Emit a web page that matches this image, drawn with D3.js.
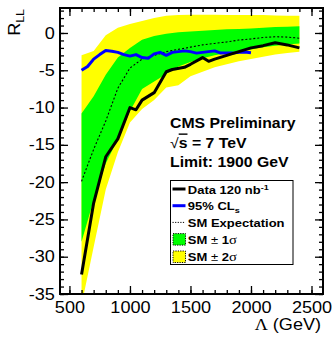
<!DOCTYPE html>
<html lang="en">
<head>
<meta charset="UTF-8">
<title>R_LL limit</title>
<style>
  * { margin: 0; padding: 0; }
  body { background: #fff; }
  svg { display: block; font-family: "Liberation Sans", Arial, sans-serif; }
</style>
</head>
<body>
<script src="https://cdn.jsdelivr.net/npm/d3@7"></script>
<script>
  // Lambda grid (GeV) for the SM expectation and bands
  var lambda = [600, 700, 800, 900, 1000, 1100, 1200, 1300, 1400, 1500, 1600, 1700, 1800, 1900, 2000, 2100, 2200, 2300, 2400];
  var smExpected = [-19.9, -15.6, -11.8, -7.4, -4.7, -3.5, -3.0, -2.5, -2.2, -1.9, -1.6, -1.4, -1.2, -0.95, -0.8, -0.6, -0.5, -0.55, -0.7];
  var sm1Up = [-10.8, -8.5, -5.6, -3.3, -2.0, -0.9, -0.4, -0.1, 0.1, 0.2, 0.3, 0.4, 0.5, 0.55, 0.6, 0.7, 0.8, 0.85, 0.9];
  var sm1Down = [-28, -22.4, -17.5, -14.2, -10.5, -7.5, -6.5, -5.5, -4.5, -3.9, -3.4, -3.0, -2.7, -2.4, -2.2, -1.9, -1.7, -1.55, -1.4];
  var sm2Up = [-3.0, -2.4, -0.3, 0.7, 1.2, 1.6, 2.0, 2.3, 2.4, 2.45, 2.45, 2.45, 2.4, 2.4, 2.4, 2.4, 2.35, 2.3, 2.3];
  var sm2Down = [-36.5, -28.7, -21.0, -16.0, -12.0, -10.2, -9.0, -7.3, -7.0, -5.8, -5.2, -4.6, -4.2, -3.8, -3.5, -3.2, -2.9, -2.7, -2.5];

  // data 120 nb^-1
  var dataLambda = [600, 700, 800, 900, 1000, 1050, 1100, 1200, 1300, 1350, 1450, 1500, 1600, 1650, 1700, 1800, 1900, 2000, 2100, 2200, 2300, 2400];
  var dataR = [-32.4, -22.8, -16.6, -14.2, -10.0, -10.3, -9.0, -8.0, -5.2, -4.9, -4.6, -4.2, -3.3, -3.8, -3.5, -3.0, -2.5, -2.0, -1.7, -1.3, -1.6, -2.0];

  // 95% CLs
  var clsLambda = [600, 650, 700, 750, 800, 850, 900, 950, 1000, 1050, 1100, 1150, 1200, 1250, 1300, 1350, 1400, 1450, 1500, 1550, 1600, 1650, 1700, 1750, 1800, 1850, 1900, 1950, 2000];
  var clsR = [-5.0, -4.5, -3.5, -2.9, -2.35, -2.45, -2.6, -2.9, -3.1, -2.9, -3.3, -3.4, -2.8, -2.6, -3.0, -2.6, -2.5, -2.4, -2.5, -2.7, -2.6, -2.5, -2.4, -2.7, -2.7, -2.7, -2.6, -2.55, -2.65];

  var yTicks = [-35, -30, -25, -20, -15, -10, -5, 0];
  var xTicks = [500, 1000, 1500, 2000, 2500];

  var width = 336, height = 342;
  var frame = {left: 60, right: 323, top: 8, bottom: 294};
  var SX = 1.13; // the original lettering is a bit wide
  var SERIF = '"Liberation Serif", "Times New Roman", serif';

  var svg = d3.select('body').append('svg').attr('width', width).attr('height', height);

  var xScale = d3.scaleLinear().domain([422, 2595]).range([frame.left, frame.right]);
  var yScale = d3.scaleLinear().domain([-35, 3.35]).range([frame.bottom, frame.top]);

  svg.append('clipPath').attr('id', 'plotclip')
    .append('rect')
    .attr('x', frame.left).attr('y', frame.top)
    .attr('width', frame.right - frame.left).attr('height', frame.bottom - frame.top);

  var plot = svg.append('g').attr('clip-path', 'url(#plotclip)');

  function band(lo, hi) {
    return d3.area()
      .x(function (d, i) { return xScale(lambda[i]); })
      .y0(function (d, i) { return yScale(lo[i]); })
      .y1(function (d, i) { return yScale(hi[i]); })(lambda);
  }

  plot.append('path').attr('d', band(sm2Down, sm2Up)).attr('fill', '#ffff00');
  plot.append('path').attr('d', band(sm1Down, sm1Up)).attr('fill', '#00ff00');

  function curve(xs, ys) {
    return d3.line()
      .x(function (d, i) { return xScale(xs[i]); })
      .y(function (d, i) { return yScale(ys[i]); })(xs);
  }

  plot.append('path').attr('d', curve(lambda, smExpected))
    .attr('fill', 'none').attr('stroke', '#000').attr('stroke-width', 1.1)
    .attr('stroke-dasharray', '2,2');
  plot.append('path').attr('d', curve(clsLambda, clsR))
    .attr('fill', 'none').attr('stroke', '#0000ff').attr('stroke-width', 3)
    .attr('stroke-linejoin', 'round');
  plot.append('path').attr('d', curve(dataLambda, dataR))
    .attr('fill', 'none').attr('stroke', '#000').attr('stroke-width', 3)
    .attr('stroke-linejoin', 'round');

  // ticks on all four sides, pointing inward
  var xMinor = d3.range(500, 2501, 100);
  var yMinor = d3.range(-35, 4, 1);

  function axisGroup(axis, tx, ty) {
    var g = svg.append('g').attr('transform', 'translate(' + tx + ',' + ty + ')').call(axis);
    g.select('.domain').remove();
    g.selectAll('line').attr('stroke-width', 1.3);
    return g;
  }

  axisGroup(d3.axisBottom(xScale).tickValues(xMinor).tickSize(-4).tickFormat(''), 0, frame.bottom);
  axisGroup(d3.axisTop(xScale).tickValues(xMinor).tickSize(-4).tickFormat(''), 0, frame.top);
  axisGroup(d3.axisTop(xScale).tickValues(xTicks).tickSize(-8).tickFormat(''), 0, frame.top);
  axisGroup(d3.axisLeft(yScale).tickValues(yMinor).tickSize(-4).tickFormat(''), frame.left, 0);
  axisGroup(d3.axisRight(yScale).tickValues(yMinor).tickSize(-4).tickFormat(''), frame.right, 0);
  axisGroup(d3.axisRight(yScale).tickValues(yTicks).tickSize(-8).tickFormat(''), frame.right, 0);

  var xAxis = axisGroup(d3.axisBottom(xScale).tickValues(xTicks).tickSize(-8).tickPadding(8)
    .tickFormat(function (d) { return String(d); }), 0, frame.bottom);
  var yAxis = axisGroup(d3.axisLeft(yScale).tickValues(yTicks).tickSize(-8).tickPadding(4.5)
    .tickFormat(function (d) { return String(d); }), frame.left, 0);

  [xAxis, yAxis].forEach(function (g) {
    g.selectAll('text')
      .attr('font-family', '"Liberation Sans", Arial, sans-serif')
      .attr('font-size', 16)
      .attr('fill', '#000')
      .attr('transform', 'scale(' + SX + ',1)');
  });

  svg.append('rect')
    .attr('x', frame.left).attr('y', frame.top)
    .attr('width', frame.right - frame.left).attr('height', frame.bottom - frame.top)
    .attr('fill', 'none').attr('stroke', '#000').attr('stroke-width', 2);

  function label(x, y, size, weight) {
    return svg.append('text')
      .attr('transform', 'translate(' + x + ',' + y + ') scale(' + SX + ',1)')
      .attr('font-size', size)
      .attr('font-weight', weight || 'normal')
      .attr('fill', '#000');
  }

  // axis titles
  var xTitle = label(321, 329.5, 16).attr('text-anchor', 'end');
  xTitle.append('tspan').attr('font-family', SERIF).text('\u039B');
  xTitle.append('tspan').text(' (GeV)');

  var yTitle = svg.append('text')
    .attr('transform', 'translate(20,9) rotate(-90) scale(' + SX + ',1)')
    .attr('text-anchor', 'end').attr('font-size', 16).attr('fill', '#000');
  yTitle.append('tspan').text('R');
  yTitle.append('tspan').attr('dy', 4).attr('font-size', 11).text('LL');

  // header text
  label(170, 127.5, 14, 'bold').text('CMS Preliminary');
  var rs = label(170, 147.5, 14, 'bold');
  rs.append('tspan').attr('font-weight', 'normal').text('\u221A');
  rs.append('tspan').style('text-decoration', 'overline').text('s');
  rs.append('tspan').text(' = 7 TeV');
  label(170, 167, 14, 'bold').text('Limit: 1900 GeV');

  // legend
  var legend = svg.append('g');
  legend.append('rect')
    .attr('x', 170.5).attr('y', 180.5).attr('width', 122.5).attr('height', 84)
    .attr('fill', '#fff').attr('stroke', '#000').attr('stroke-width', 1);

  var rowY = [193.5, 210.2, 226.9, 243.6, 261];
  var symX0 = 172.5, symX1 = 185.5, textX = 187.8;

  legend.append('line').attr('x1', symX0).attr('x2', symX1).attr('y1', rowY[0] - 4.5).attr('y2', rowY[0] - 4.5)
    .attr('stroke', '#000').attr('stroke-width', 3);
  legend.append('line').attr('x1', symX0).attr('x2', symX1).attr('y1', rowY[1] - 4.5).attr('y2', rowY[1] - 4.5)
    .attr('stroke', '#0000ff').attr('stroke-width', 3);
  legend.append('line').attr('x1', symX0).attr('x2', symX1).attr('y1', rowY[2] - 4.5).attr('y2', rowY[2] - 4.5)
    .attr('stroke', '#000').attr('stroke-width', 1).attr('stroke-dasharray', '1.2,1.4');
  legend.append('rect').attr('x', symX0 + 0.5).attr('y', rowY[3] - 10).attr('width', 12.5).attr('height', 11.5)
    .attr('fill', '#00ff00').attr('stroke', '#000').attr('stroke-width', 1).attr('stroke-dasharray', '1.2,1.2');
  legend.append('rect').attr('x', symX0 + 0.5).attr('y', rowY[4] - 10).attr('width', 12.5).attr('height', 11.5)
    .attr('fill', '#ffff00').attr('stroke', '#000').attr('stroke-width', 1).attr('stroke-dasharray', '1.2,1.2');

  var t0 = label(textX, rowY[0], 11.5, 'bold');
  t0.append('tspan').text('Data 120 nb');
  t0.append('tspan').attr('dy', -4).attr('font-size', 8).text('-1');

  var t1 = label(textX, rowY[1], 11.5, 'bold');
  t1.append('tspan').text('95% CL');
  t1.append('tspan').attr('dy', 3).attr('font-size', 8).text('s');

  label(textX, rowY[2], 11.5, 'bold').text('SM Expectation');

  [['1', rowY[3]], ['2', rowY[4]]].forEach(function (r) {
    var t = label(textX, r[1], 11.5, 'bold');
    t.append('tspan').text('SM');
    t.append('tspan').attr('font-weight', 'normal').text(' \u00B1 ');
    t.append('tspan').text(r[0]);
    t.append('tspan').attr('font-weight', 'normal').attr('font-family', SERIF).attr('font-size', 13).text('\u03C3');
  });
</script>
</body>
</html>
